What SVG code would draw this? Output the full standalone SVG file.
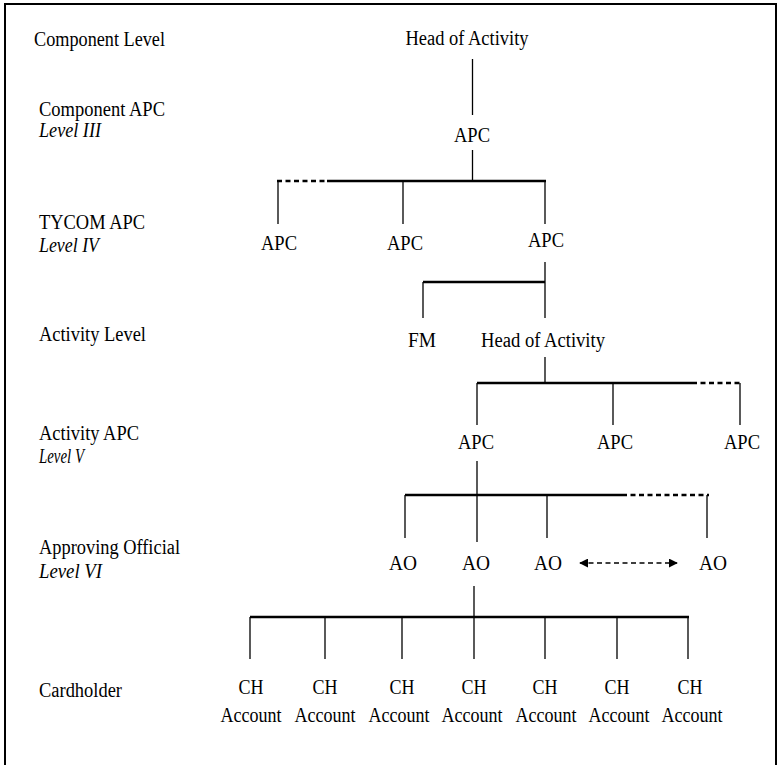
<svg xmlns="http://www.w3.org/2000/svg" width="781" height="765" viewBox="0 0 781 765">
<style>
text{font-family:"Liberation Serif","Times New Roman","DejaVu Serif","Noto Serif",serif;font-size:20px;fill:#000}
.c{text-anchor:middle}
.i{font-style:italic}
.v{stroke:#000;stroke-width:1.3;fill:none}
.h{stroke:#000;stroke-width:2.3;fill:none}
.d{stroke-dasharray:5,3.5}
</style>
<defs>
<marker id="ah" viewBox="0 0 10 10" refX="9" refY="5" markerWidth="9" markerHeight="9" markerUnits="userSpaceOnUse" orient="auto-start-reverse">
<path d="M0,0 L10,5 L0,10 z" fill="#000"/>
</marker>
</defs>
<rect x="0" y="0" width="781" height="765" fill="#fff"/>
<rect x="5" y="4" width="771" height="780" fill="none" stroke="#000" stroke-width="2"/>

<g id="level-labels" font-family="Liberation Serif, DejaVu Serif, serif">
<text x="34" y="46" textLength="131" lengthAdjust="spacingAndGlyphs">Component Level</text>
<text x="39" y="116" textLength="126" lengthAdjust="spacingAndGlyphs">Component APC</text>
<text x="39" y="137" class="i" textLength="62" lengthAdjust="spacingAndGlyphs">Level III</text>
<text x="39" y="229" textLength="106" lengthAdjust="spacingAndGlyphs">TYCOM APC</text>
<text x="39" y="252" class="i" textLength="60" lengthAdjust="spacingAndGlyphs">Level IV</text>
<text x="39" y="341" textLength="107" lengthAdjust="spacingAndGlyphs">Activity Level</text>
<text x="39" y="440" textLength="100" lengthAdjust="spacingAndGlyphs">Activity APC</text>
<text x="39" y="463" class="i" textLength="45" lengthAdjust="spacingAndGlyphs">Level V</text>
<text x="39" y="554" textLength="141" lengthAdjust="spacingAndGlyphs">Approving Official</text>
<text x="39" y="578" class="i" textLength="63" lengthAdjust="spacingAndGlyphs">Level VI</text>
<text x="39" y="697" textLength="83" lengthAdjust="spacingAndGlyphs">Cardholder</text>
</g>

<g id="connectors">
<line class="v" x1="472.5" y1="59" x2="472.5" y2="115"/>
<line class="v" x1="472.5" y1="150" x2="472.5" y2="181"/>
<line class="h" x1="327" y1="181" x2="546" y2="181"/>
<line class="h d" x1="277" y1="181" x2="327" y2="181"/>
<line class="v" x1="278" y1="181" x2="278" y2="224"/>
<line class="v" x1="403" y1="181" x2="403" y2="224"/>
<line class="v" x1="545" y1="181" x2="545" y2="224"/>

<line class="v" x1="545" y1="262" x2="545" y2="318"/>
<line class="h" x1="423" y1="282" x2="545" y2="282"/>
<line class="v" x1="423" y1="282" x2="423" y2="318"/>

<line class="v" x1="545" y1="357" x2="545" y2="383"/>
<line class="h" x1="477" y1="383" x2="692" y2="383"/>
<line class="h d" x1="692" y1="383" x2="741" y2="383"/>
<line class="v" x1="477" y1="383" x2="477" y2="425"/>
<line class="v" x1="613" y1="383" x2="613" y2="425"/>
<line class="v" x1="740" y1="383" x2="740" y2="425"/>

<line class="v" x1="477" y1="461" x2="477" y2="542"/>
<line class="h" x1="405" y1="495" x2="622" y2="495"/>
<line class="h d" x1="622" y1="495" x2="709" y2="495"/>
<line class="v" x1="405" y1="495" x2="405" y2="538"/>
<line class="v" x1="547" y1="495" x2="547" y2="538"/>
<line class="v" x1="707" y1="495" x2="707" y2="538"/>

<line class="v d" x1="580" y1="563" x2="677" y2="563" stroke-width="1.6" marker-start="url(#ah)" marker-end="url(#ah)"/>

<line class="v" x1="474" y1="586" x2="474" y2="617"/>
<line class="h" x1="250" y1="617" x2="689" y2="617"/>
<line class="v" x1="250" y1="617" x2="250" y2="659"/>
<line class="v" x1="325" y1="617" x2="325" y2="659"/>
<line class="v" x1="402" y1="617" x2="402" y2="659"/>
<line class="v" x1="474" y1="617" x2="474" y2="659"/>
<line class="v" x1="545" y1="617" x2="545" y2="659"/>
<line class="v" x1="617" y1="617" x2="617" y2="659"/>
<line class="v" x1="688" y1="617" x2="688" y2="659"/>
</g>

<g id="node-head-component"><text class="c" x="467" y="45" textLength="123" lengthAdjust="spacingAndGlyphs">Head of Activity</text></g>
<g id="node-apc-l3"><text class="c" x="472" y="142" textLength="36" lengthAdjust="spacingAndGlyphs">APC</text></g>
<g id="node-apc-l4-1"><text class="c" x="279" y="250" textLength="36" lengthAdjust="spacingAndGlyphs">APC</text></g>
<g id="node-apc-l4-2"><text class="c" x="405" y="250" textLength="36" lengthAdjust="spacingAndGlyphs">APC</text></g>
<g id="node-apc-l4-3"><text class="c" x="546" y="247" textLength="36" lengthAdjust="spacingAndGlyphs">APC</text></g>
<g id="node-fm"><text class="c" x="422" y="347" textLength="28" lengthAdjust="spacingAndGlyphs">FM</text></g>
<g id="node-head-activity"><text class="c" x="543" y="347" textLength="124" lengthAdjust="spacingAndGlyphs">Head of Activity</text></g>
<g id="node-apc-l5-1"><text class="c" x="476" y="449" textLength="36" lengthAdjust="spacingAndGlyphs">APC</text></g>
<g id="node-apc-l5-2"><text class="c" x="615" y="449" textLength="36" lengthAdjust="spacingAndGlyphs">APC</text></g>
<g id="node-apc-l5-3"><text class="c" x="742" y="449" textLength="36" lengthAdjust="spacingAndGlyphs">APC</text></g>
<g id="node-ao-1"><text class="c" x="403" y="570" textLength="28" lengthAdjust="spacingAndGlyphs">AO</text></g>
<g id="node-ao-2"><text class="c" x="476" y="570" textLength="28" lengthAdjust="spacingAndGlyphs">AO</text></g>
<g id="node-ao-3"><text class="c" x="548" y="570" textLength="28" lengthAdjust="spacingAndGlyphs">AO</text></g>
<g id="node-ao-4"><text class="c" x="713" y="570" textLength="28" lengthAdjust="spacingAndGlyphs">AO</text></g>
<g id="node-ch-1"><text class="c" x="251" y="694" textLength="25" lengthAdjust="spacingAndGlyphs">CH</text><text class="c" x="251" y="722" textLength="61" lengthAdjust="spacingAndGlyphs">Account</text></g>
<g id="node-ch-2"><text class="c" x="325" y="694" textLength="25" lengthAdjust="spacingAndGlyphs">CH</text><text class="c" x="325" y="722" textLength="61" lengthAdjust="spacingAndGlyphs">Account</text></g>
<g id="node-ch-3"><text class="c" x="402" y="694" textLength="25" lengthAdjust="spacingAndGlyphs">CH</text><text class="c" x="399" y="722" textLength="61" lengthAdjust="spacingAndGlyphs">Account</text></g>
<g id="node-ch-4"><text class="c" x="474" y="694" textLength="25" lengthAdjust="spacingAndGlyphs">CH</text><text class="c" x="472" y="722" textLength="61" lengthAdjust="spacingAndGlyphs">Account</text></g>
<g id="node-ch-5"><text class="c" x="545" y="694" textLength="25" lengthAdjust="spacingAndGlyphs">CH</text><text class="c" x="546" y="722" textLength="61" lengthAdjust="spacingAndGlyphs">Account</text></g>
<g id="node-ch-6"><text class="c" x="617" y="694" textLength="25" lengthAdjust="spacingAndGlyphs">CH</text><text class="c" x="619" y="722" textLength="61" lengthAdjust="spacingAndGlyphs">Account</text></g>
<g id="node-ch-7"><text class="c" x="690" y="694" textLength="25" lengthAdjust="spacingAndGlyphs">CH</text><text class="c" x="692" y="722" textLength="61" lengthAdjust="spacingAndGlyphs">Account</text></g>
</svg>
